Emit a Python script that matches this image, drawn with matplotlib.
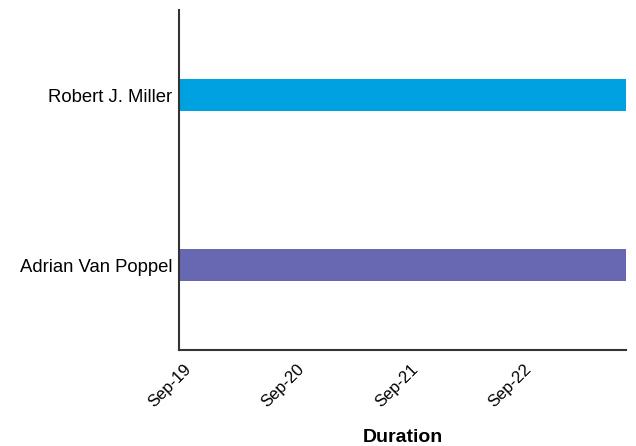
import matplotlib
matplotlib.use("Agg")
import matplotlib.pyplot as plt
import matplotlib.dates as mdates
import matplotlib.transforms as mtransforms
from datetime import datetime

people = ["Adrian Van Poppel", "Robert J. Miller"]
starts = ["2023-09-19 00:00", "2023-09-19 00:00"]
ends = ["2023-09-22 22:40", "2023-09-22 22:40"]
colors = ["#6767b2", "#00a1e0"]
tick_dates = ["2023-09-19", "2023-09-20", "2023-09-21", "2023-09-22"]
tick_labels = ["Sep-19", "Sep-20", "Sep-21", "Sep-22"]

plt.rcParams['font.family'] = ['Liberation Sans', 'DejaVu Sans']

fig = plt.figure(figsize=(6.36, 4.46), dpi=100)
ax = fig.add_axes([179/636, 1 - 350/446, (626 - 179)/636, 340/446])

s = [mdates.date2num(datetime.strptime(v, "%Y-%m-%d %H:%M")) for v in starts]
e = [mdates.date2num(datetime.strptime(v, "%Y-%m-%d %H:%M")) for v in ends]
ax.barh(range(len(people)), [b - a for a, b in zip(s, e)], left=s, height=0.19, color=colors)

ax.set_ylim(-0.5, 1.5)
ax.set_xlim(min(s), max(e))
ax.set_yticks(range(len(people)))
ax.set_yticklabels(people, fontsize=13.3)
tk = [mdates.date2num(datetime.strptime(v, "%Y-%m-%d")) for v in tick_dates]
ax.set_xticks(tk)
ax.tick_params(axis='y', length=0, pad=5)
ax.tick_params(axis='x', length=0, pad=12)
ax.set_xticklabels(tick_labels, rotation=45, ha='right', va='center', rotation_mode='anchor', fontsize=12)
off = mtransforms.ScaledTranslation(10/100, 0, fig.dpi_scale_trans)
for lab in ax.get_xticklabels():
    lab.set_transform(lab.get_transform() + off)
for sp in ['top', 'right']:
    ax.spines[sp].set_visible(False)
for sp in ['left', 'bottom']:
    ax.spines[sp].set_color('#333333')
    ax.spines[sp].set_linewidth(1.5)
ax.set_xlabel("Duration", fontsize=14, fontweight='bold', labelpad=14)

fig.savefig("out.png", dpi=100)
